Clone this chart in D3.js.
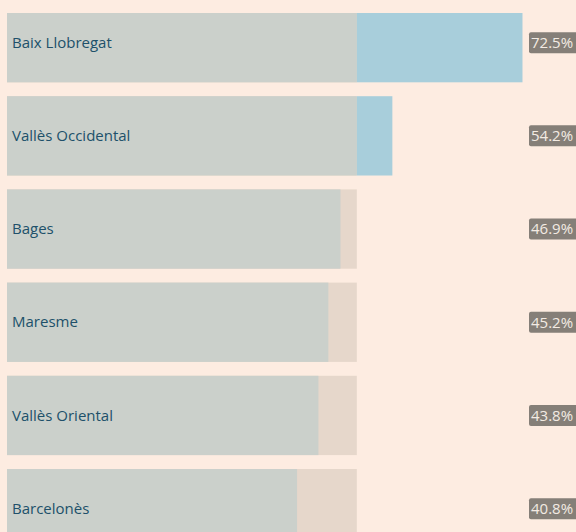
<!DOCTYPE html>
<html>
<head>
<meta charset="utf-8">
<script src="https://cdn.jsdelivr.net/npm/d3@7"></script>
<style>
  html, body { margin: 0; padding: 0; background: #fdece1; }
  svg { display: block; }
</style>
</head>
<body>
<div id="chart"></div>
<script>
// comarques and their share (%)
const comarques = ['Baix Llobregat', 'Vallès Occidental', 'Bages', 'Maresme', 'Vallès Oriental', 'Barcelonès'];
const percentatges = [72.5, 54.2, 46.9, 45.2, 43.8, 40.8];
const llindar = 49.2; // reference value where the bars change colour

const width = 576;
const height = 532;

const svg = d3.select('#chart')
  .append('svg')
    .attr('width', width)
    .attr('height', height);

// the list is scrolled a bit, top of the first bar is hidden
svg.append('clipPath')
    .attr('id', 'clip')
  .append('rect')
    .attr('x', 0)
    .attr('y', 13)
    .attr('width', width)
    .attr('height', height - 13);

const xScale = d3.scaleLinear()
  .domain([0, 100])
  .range([7, 718]);

const yScale = d3.scaleBand()
  .domain(comarques)
  .range([3, 548.3])
  .paddingInner(0.149)
  .paddingOuter(0);

const rows = svg.append('g')
    .attr('clip-path', 'url(#clip)')
  .selectAll('g')
  .data(comarques)
  .join('g')
    .attr('transform', d => `translate(0, ${yScale(d)})`);

// beige background up to the reference
rows.append('rect')
  .attr('x', xScale(0))
  .attr('width', xScale(llindar) - xScale(0))
  .attr('height', yScale.bandwidth())
  .attr('fill', '#e6d7cb');

// grey part
rows.append('rect')
  .attr('x', xScale(0))
  .attr('width', (d, i) => xScale(Math.min(percentatges[i], llindar)) - xScale(0))
  .attr('height', yScale.bandwidth())
  .attr('fill', '#cbd0cb');

// blue part above the reference
rows.filter((d, i) => percentatges[i] > llindar)
  .append('rect')
  .attr('x', xScale(llindar))
  .attr('width', d => xScale(percentatges[comarques.indexOf(d)]) - xScale(llindar))
  .attr('height', yScale.bandwidth())
  .attr('fill', '#a8cedb');

rows.append('text')
  .attr('x', 12)
  .attr('y', yScale.bandwidth() / 2)
  .attr('dy', '0.35em')
  .attr('fill', '#20506a')
  .style('font-family', '"Open Sans", sans-serif')
  .style('font-size', '15px')
  .text(d => d);

// value badges
const badges = svg.append('g')
  .selectAll('g')
  .data(comarques)
  .join('g')
    .attr('transform', d => `translate(529, ${yScale(d) + yScale.bandwidth() / 2})`);

badges.append('rect')
  .attr('x', 0)
  .attr('y', -10.5)
  .attr('width', 50)
  .attr('height', 21)
  .attr('rx', 2)
  .attr('fill', '#857f78');

badges.append('text')
  .attr('x', 2)
  .attr('y', 0)
  .attr('dy', '0.36em')
  .attr('fill', '#f3ebe3')
  .style('font-family', '"Open Sans", sans-serif')
  .style('font-size', '15px')
  .text((d, i) => d3.format('.1f')(percentatges[i]) + '%');
</script>
</body>
</html>
